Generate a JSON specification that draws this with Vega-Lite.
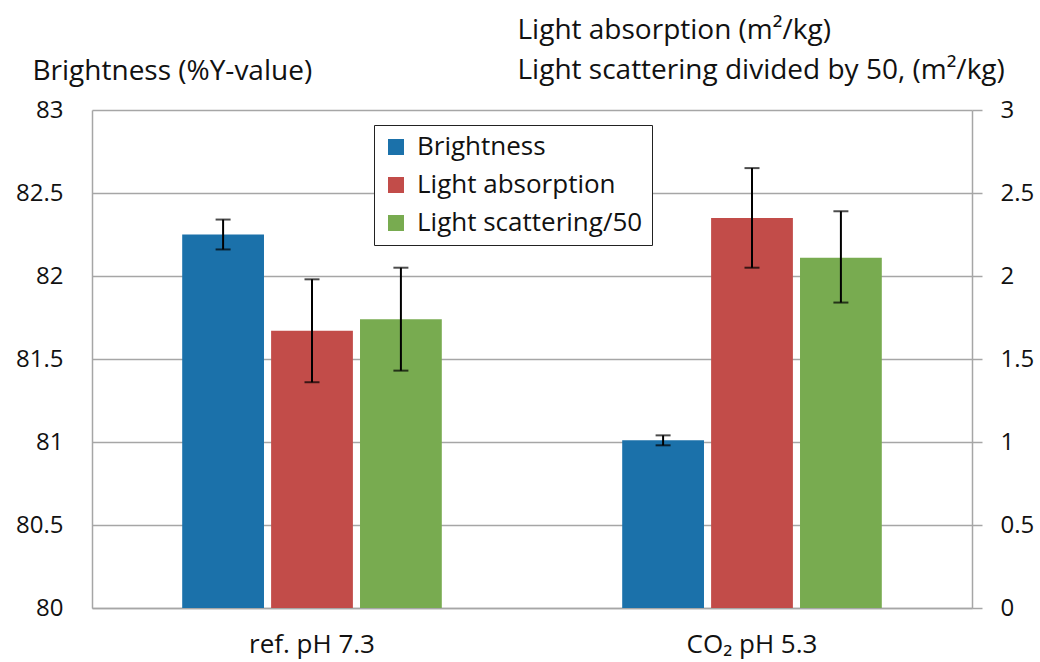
{
  "$schema": "https://vega.github.io/schema/vega-lite/v6.json",
  "autosize": {"type": "none"},
  "padding": {"left": 92, "top": 110, "right": 68, "bottom": 54},
  "width": 880,
  "height": 498,
  "background": "white",
  "config": {
    "view": {"stroke": null},
    "font": "Open Sans",
    "axis": {
      "labelFont": "Open Sans",
      "titleFont": "Open Sans",
      "labelColor": "#111",
      "titleColor": "#111",
      "titleFontWeight": "normal",
      "labelFontSize": 24,
      "titleFontSize": 28,
      "domainColor": "#a6a6a6",
      "domainWidth": 1.5,
      "tickColor": "#a6a6a6",
      "tickWidth": 1.5,
      "gridColor": "#a6a6a6",
      "gridWidth": 1.5
    },
    "legend": {"labelFont": "Open Sans"}
  },
  "data": {
    "values": [
      {"group": "ref. pH 7.3", "series": "Brightness", "value": 82.25, "low": 82.16, "high": 82.34},
      {"group": "ref. pH 7.3", "series": "Light absorption", "value": 1.67, "low": 1.36, "high": 1.98},
      {"group": "ref. pH 7.3", "series": "Light scattering/50", "value": 1.74, "low": 1.43, "high": 2.05},
      {"group": "CO₂ pH 5.3", "series": "Brightness", "value": 81.01, "low": 80.98, "high": 81.04},
      {"group": "CO₂ pH 5.3", "series": "Light absorption", "value": 2.35, "low": 2.05, "high": 2.65},
      {"group": "CO₂ pH 5.3", "series": "Light scattering/50", "value": 2.11, "low": 1.84, "high": 2.39}
    ]
  },
  "encoding": {
    "x": {
      "field": "group",
      "type": "nominal",
      "sort": ["ref. pH 7.3", "CO₂ pH 5.3"],
      "scale": {"paddingInner": 0.41, "paddingOuter": 0.205},
      "axis": {
        "title": null,
        "labelAngle": 0,
        "ticks": false,
        "labelPadding": 23,
        "labelBaseline": "top",
        "labelFontSize": 26
      }
    },
    "xOffset": {
      "field": "series",
      "type": "nominal",
      "scale": {
        "domain": ["Brightness", "Light absorption", "Light scattering/50"],
        "paddingInner": 0.08,
        "paddingOuter": 0
      }
    }
  },
  "layer": [
    {
      "transform": [{"filter": "datum.series === 'Brightness'"}],
      "encoding": {
        "y": {
          "field": "value",
          "type": "quantitative",
          "scale": {"domain": [80, 83], "nice": false, "zero": false},
          "axis": {
            "orient": "left",
            "values": [80, 80.5, 81, 81.5, 82, 82.5, 83],
            "format": "~g",
            "title": "Brightness (%Y-value)",
            "titleAngle": 0,
            "titleAlign": "left",
            "titleBaseline": "alphabetic",
            "titleX": -60,
            "titleY": -31,
            "ticks": false,
            "labelPadding": 29,
            "grid": true
          }
        }
      },
      "layer": [
        {
          "mark": {"type": "bar"},
          "encoding": {
            "y2": {"datum": 80},
            "color": {
              "field": "series",
              "type": "nominal",
              "scale": {
                "domain": ["Brightness", "Light absorption", "Light scattering/50"],
                "range": ["#1b71aa", "#c24c49", "#78ab50"]
              },
              "legend": {
                "orient": "none",
                "legendX": 282,
                "legendY": 15,
                "title": null,
                "fillColor": "white",
                "strokeColor": "#222",
                "padding": 9,
                "symbolType": "square",
                "symbolSize": 256,
                "symbolStrokeWidth": 0,
                "labelFontSize": 26,
                "labelColor": "#111",
                "labelOffset": 8,
                "labelLimit": 500,
                "rowPadding": 12
              }
            }
          }
        },
        {
          "mark": {"type": "rule", "color": "black", "strokeWidth": 2},
          "encoding": {"y": {"field": "low", "type": "quantitative"}, "y2": {"field": "high"}}
        },
        {
          "mark": {"type": "tick", "color": "black", "size": 15, "thickness": 2},
          "encoding": {"y": {"field": "low", "type": "quantitative"}}
        },
        {
          "mark": {"type": "tick", "color": "black", "size": 15, "thickness": 2},
          "encoding": {"y": {"field": "high", "type": "quantitative"}}
        }
      ]
    },
    {
      "transform": [{"filter": "datum.series !== 'Brightness'"}],
      "encoding": {
        "y": {
          "field": "value",
          "type": "quantitative",
          "scale": {"domain": [0, 3], "nice": false},
          "axis": {
            "orient": "right",
            "values": [0, 0.5, 1, 1.5, 2, 2.5, 3],
            "format": "~g",
            "title": ["Light absorption (m²/kg)", "Light scattering divided by 50, (m²/kg)"],
            "titleAngle": 0,
            "titleAlign": "left",
            "titleBaseline": "alphabetic",
            "titleX": -455,
            "titleY": -72,
            "titleLineHeight": 40,
            "tickSize": 10,
            "labelPadding": 18,
            "grid": false
          }
        }
      },
      "layer": [
        {
          "mark": {"type": "bar"},
          "encoding": {
            "y2": {"datum": 0},
            "color": {"field": "series", "type": "nominal"}
          }
        },
        {
          "mark": {"type": "rule", "color": "black", "strokeWidth": 2},
          "encoding": {"y": {"field": "low", "type": "quantitative"}, "y2": {"field": "high"}}
        },
        {
          "mark": {"type": "tick", "color": "black", "size": 15, "thickness": 2},
          "encoding": {"y": {"field": "low", "type": "quantitative"}}
        },
        {
          "mark": {"type": "tick", "color": "black", "size": 15, "thickness": 2},
          "encoding": {"y": {"field": "high", "type": "quantitative"}}
        }
      ]
    }
  ],
  "resolve": {"scale": {"y": "independent"}}
}
